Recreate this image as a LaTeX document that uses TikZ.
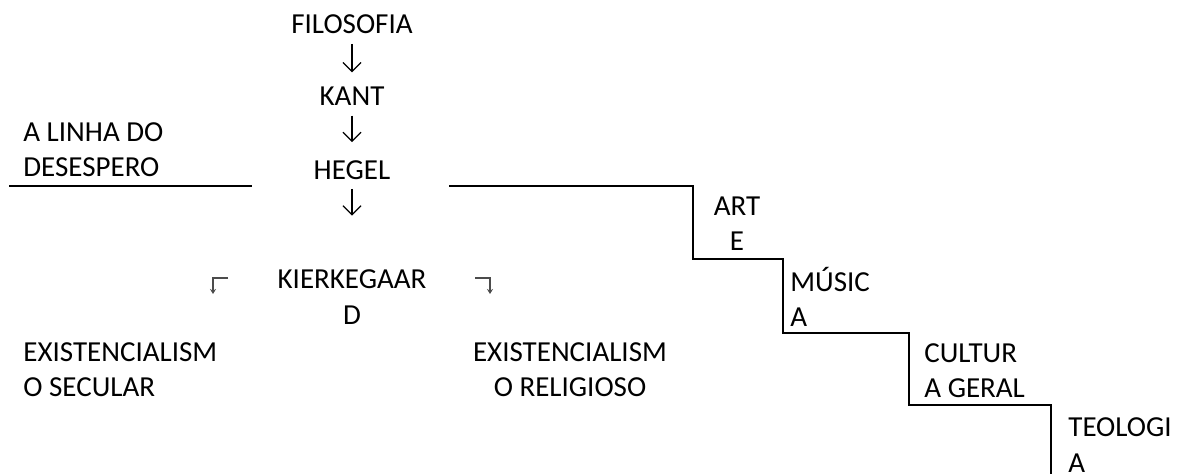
\documentclass[tikz,border=0pt]{standalone}
\usepackage{fontspec}
\setmainfont{Carlito}
\usetikzlibrary{arrows.meta}
\begin{document}
\begin{tikzpicture}[x=0.5pt, y=-0.5pt, font=\fontsize{14.5}{17.6}\selectfont,
					txt/.style={inner sep=0pt, align=center},
					ltxt/.style={inner sep=0pt, align=left, anchor=west},
					down/.style={line width=0.6pt, -{Straight Barb[length=4.5pt,width=9pt]}},
					stair/.style={line width=1.2pt},
					hook/.style={line width=0.6pt, draw=black!70, -{Stealth[length=2.5pt,width=3pt]}}]
					
					\useasboundingbox (0,0) rectangle (1190,474);
					
					% the chain of thinkers
					\node[txt] (filo) at (352,24) {FILOSOFIA};
					\node[txt] (kant) at (352,96) {KANT};
					\node[txt] (hegel) at (352,170) {HEGEL};
					\node[txt] (kierk) at (352,297) {KIERKEGAAR\\D};
					
					\draw[down, shorten <=5pt, shorten >=7pt] (filo) -- (kant);
					\draw[down, shorten <=5pt, shorten >=9pt] (kant) -- (hegel);
					\draw[down, shorten <=4.5pt, shorten >=27pt] (hegel) -- (kierk);
					
					% left side
					\node[ltxt] (linha) at (23,150) {A LINHA DO\\DESESPERO};
					\coordinate (d0) at (9,186);
					\coordinate (d1) at (252,186);
					\draw[stair] (d0) -- (d1);
					
					\node[ltxt] (secular) at (23,370) {EXISTENCIALISM\\O SECULAR};
					\node[txt] (relig) at (570,370) {EXISTENCIALISM\\O RELIGIOSO};
					
					% small corner arrows
					\coordinate (la) at (228,278);
					\coordinate (lb) at (213,278);
					\coordinate (lc) at (213,294);
					\draw[hook] (la) -- (lb) -- (lc);
					\coordinate (ra) at (475,278);
					\coordinate (rb) at (490,278);
					\coordinate (rc) at (490,294);
					\draw[hook] (ra) -- (rb) -- (rc);
					
					% the staircase
					\coordinate (s0) at (449,186);
					\coordinate (s1) at (693,186);
					\coordinate (s2) at (693,259);
					\coordinate (s3) at (783,259);
					\coordinate (s4) at (783,333);
					\coordinate (s5) at (909,333);
					\coordinate (s6) at (909,405);
					\coordinate (s7) at (1051,405);
					\coordinate (s8) at (1051,474);
					\draw[stair] (s0) -- (s1) -- (s2) -- (s3) -- (s4) -- (s5) -- (s6) -- (s7) -- (s8);
					
					\node[txt] (arte) at (737,224) {ART\\E};
					\node[ltxt] (musica) at (790,297) {MÚSIC\\A};
					\node[ltxt] (cultura) at (924,371) {CULTUR\\A GERAL};
					\node[ltxt] (teologia) at (1068,445) {TEOLOGI\\A};
					
				\end{tikzpicture}
\end{document}
